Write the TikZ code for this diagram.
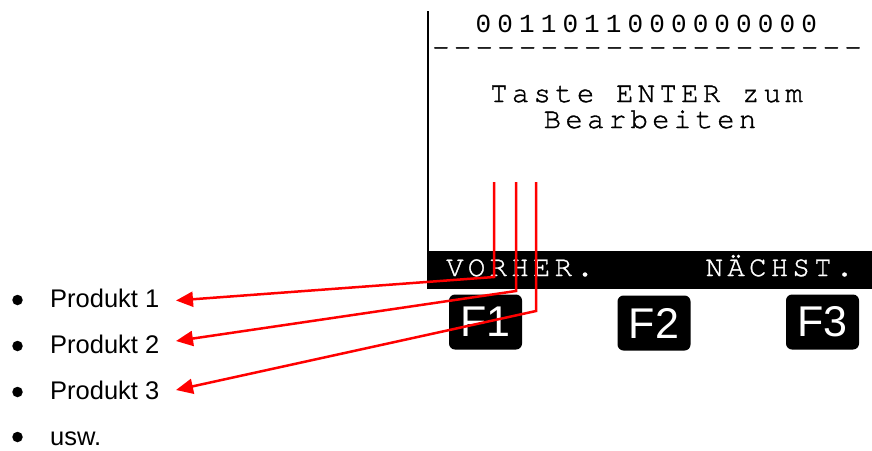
\documentclass[tikz,border=0pt]{standalone}
\usepackage{fontspec}
\usetikzlibrary{arrows.meta}
\newfontfamily\arialfont{Liberation Sans}
\newfontfamily\lcdsans[LetterSpace=23.5]{Liberation Mono}
\newfontfamily\lcdserif[LetterSpace=14.8,FakeBold=1.2]{texgyrecursor-regular.otf}
\tikzset{
  lcdtext/.style={inner sep=0pt, anchor=base west, font=\lcdserif\fontsize{29}{29}\selectfont},
  keycap/.style={fill=black, rounded corners=6pt, minimum width=73pt, minimum height=55pt,
    inner sep=0pt, text=white, font=\arialfont\fontsize{43}{43}\selectfont},
  listitem/.style={inner sep=0pt, anchor=base west, font=\arialfont\fontsize{25.5}{26}\selectfont},
  bulletdot/.style={circle, fill=black, inner sep=0pt, minimum size=10.5pt},
  pointer/.style={draw=red, line width=2.5pt, line join=miter, -{Triangle[length=17pt,width=15pt]}}
}
\begin{document}
\begin{tikzpicture}[x=1pt,y=-1pt]
  \useasboundingbox (0,0) rectangle (872,450);

  % display frame edge and soft-key bar
  \draw[line width=2pt] (428,11) -- (428,252);
  \fill[black] (427,251) rectangle (872,289);

  % display contents
  \node[lcdtext, font=\lcdsans\fontsize{26}{26}\selectfont] (code) at (475.5,32) {0011011000000000};
  \node[lcdtext] (rule) at (432,56) {--------------------};
  \node[lcdtext] (msg1) at (490,102) {Taste ENTER zum};
  \node[lcdtext] (msg2) at (543.5,128) {Bearbeiten};
  \node[lcdtext, text=white] (prev) at (446,276) {VORHER.};
  \node[lcdtext, text=white] (next) at (705.5,276) {NÄCHST.};

  % function keys
  \node[keycap] (f1) at (485.5,322) {F1};
  \node[keycap] (f2) at (654,323) {F2};
  \node[keycap] (f3) at (822.5,322) {F3};

  % product list
  \node[bulletdot] (b1) at (17.5,300) {};
  \node[bulletdot] (b2) at (17.5,346) {};
  \node[bulletdot] (b3) at (17.5,392) {};
  \node[bulletdot] (b4) at (17.5,437) {};
  \node[listitem] (p1) at (50,307) {Produkt 1};
  \node[listitem] (p2) at (50,353) {Produkt 2};
  \node[listitem] (p3) at (50,399) {Produkt 3};
  \node[listitem] (p4) at (50,445) {usw.};

  % pointers from the soft key to the list
  \coordinate (top1) at (494,182);
  \coordinate (top2) at (516,182);
  \coordinate (top3) at (536,182);
  \coordinate (bend1) at (494,277);
  \coordinate (bend2) at (516,291);
  \coordinate (bend3) at (536,311);
  \coordinate (tip1) at (176,300.5);
  \coordinate (tip2) at (176,341);
  \coordinate (tip3) at (176,390);
  \draw[pointer] (top1) -- (bend1) -- (tip1);
  \draw[pointer] (top2) -- (bend2) -- (tip2);
  \draw[pointer] (top3) -- (bend3) -- (tip3);
\end{tikzpicture}
\end{document}
